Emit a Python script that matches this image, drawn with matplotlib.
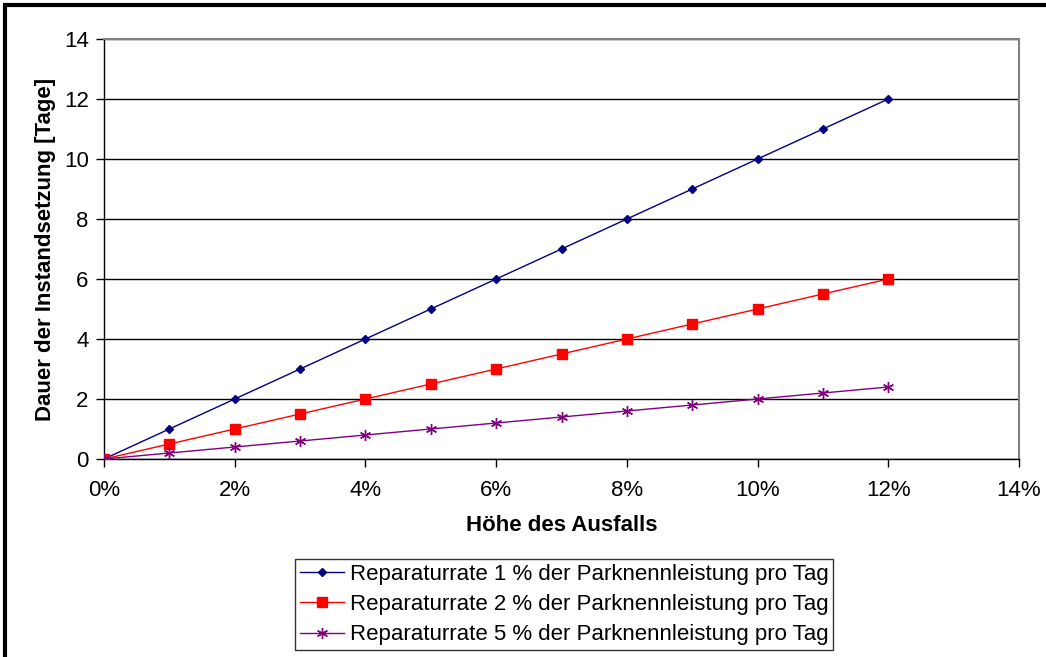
import matplotlib
matplotlib.use("Agg")
import matplotlib.pyplot as plt
from matplotlib.patches import Rectangle
from matplotlib.ticker import FuncFormatter

plt.rcParams['font.family'] = ['Liberation Sans', 'DejaVu Sans']

x_pct = [0, 1, 2, 3, 4, 5, 6, 7, 8, 9, 10, 11, 12]
rate1 = [0, 1, 2, 3, 4, 5, 6, 7, 8, 9, 10, 11, 12]
rate2 = [0, 0.5, 1, 1.5, 2, 2.5, 3, 3.5, 4, 4.5, 5, 5.5, 6]
rate5 = [0, 0.2, 0.4, 0.6, 0.8, 1.0, 1.2, 1.4, 1.6, 1.8, 2.0, 2.2, 2.4]
labels = ["Reparaturrate 1 % der Parknennleistung pro Tag",
          "Reparaturrate 2 % der Parknennleistung pro Tag",
          "Reparaturrate 5 % der Parknennleistung pro Tag"]
xlabel = "Höhe des Ausfalls"
ylabel = "Dauer der Instandsetzung [Tage]"

W, H = 1046, 657
fig = plt.figure(figsize=(W/100, H/100), dpi=100)
ax = fig.add_axes([104/W, 1-459/H, (1019-104)/W, (459-39)/H])

ax.plot(x_pct, rate1, color='#000080', lw=1, marker='D', ms=4.5, label=labels[0], zorder=3)
ax.plot(x_pct, rate2, color='#FF0000', lw=1, marker='s', ms=6.5, label=labels[1], zorder=3)
ax.plot(x_pct, rate5, color='#800080', lw=1, marker=(6, 2, 0), ms=8, mew=1, label=labels[2], zorder=3)

ax.set_xlim(0, 14)
ax.set_ylim(0, 14)
ax.set_xticks(range(0, 15, 2))
ax.set_yticks(range(0, 15, 2))
ax.xaxis.set_major_formatter(FuncFormatter(lambda v, p: f"{int(v)}%"))
ax.yaxis.grid(True, color='#000000', lw=1)
ax.set_axisbelow(True)
ax.tick_params(axis='both', direction='out', length=6, width=1, color='#000000', labelsize=16)
ax.tick_params(axis='x', pad=9)
ax.tick_params(axis='y', pad=5)
for s in ['left', 'bottom']:
    ax.spines[s].set_color('#000000')
    ax.spines[s].set_linewidth(1)
for s in ['right', 'top']:
    ax.spines[s].set_color('#808080')
    ax.spines[s].set_linewidth(1.5)

ax.set_xlabel(xlabel, fontsize=16, fontweight='bold', labelpad=10)
ax.set_ylabel(ylabel, fontsize=16, fontweight='bold', labelpad=6)

leg = fig.legend(loc='center', bbox_to_anchor=(564/W, 1-604.5/H), fontsize=16,
                 frameon=True, fancybox=False, edgecolor='#000000', handlelength=2.0,
                 handletextpad=0.25, borderpad=0.2, labelspacing=0.42, borderaxespad=0)
leg.get_frame().set_linewidth(1)

fig.patches.append(Rectangle((5/W, -0.05), 1.1, 1-5/H+0.05, transform=fig.transFigure,
                             fill=False, edgecolor='black', lw=3))

fig.savefig("out.png", dpi=100)
